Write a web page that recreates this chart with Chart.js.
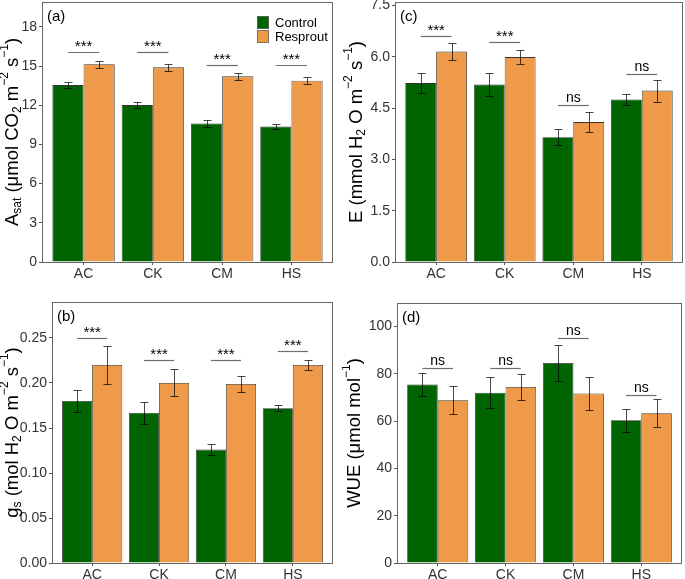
<!DOCTYPE html>
<html>
<head>
<meta charset="utf-8">
<script src="https://cdn.jsdelivr.net/npm/chart.js@4.4.1/dist/chart.umd.min.js"></script>
<style>
  body { margin: 0; background: #fff; }
  #wrap { position: relative; width: 685px; height: 579px; }
  canvas { position: absolute; }
</style>
</head>
<body>
<div id="wrap">
  <canvas id="pa" width="342" height="290" style="left:0;top:0"></canvas>
  <canvas id="pc" width="343" height="290" style="left:342px;top:0"></canvas>
  <canvas id="pb" width="342" height="289" style="left:0;top:290px"></canvas>
  <canvas id="pd" width="343" height="289" style="left:342px;top:290px"></canvas>
</div>
<script>
const categories = ['AC', 'CK', 'CM', 'HS']
const seriesNames = ['Control', 'Resprout']

// (a) A_sat
const asatControl = [13.54, 12.01, 10.60, 10.37]
const asatControlErr = [0.23, 0.25, 0.27, 0.22]
const asatResprout = [15.13, 14.90, 14.21, 13.88]
const asatResproutErr = [0.28, 0.27, 0.26, 0.27]
const asatSig = ['***', '***', '***', '***']
const asatSigY = [16.05, 16.05, 15.05, 15.05]
const asatTicks = [0, 3, 6, 9, 12, 15, 18]

// (c) E
const eControl = [5.23, 5.19, 3.65, 4.75]
const eControlErr = [0.28, 0.34, 0.23, 0.15]
const eResprout = [6.15, 5.99, 4.09, 5.01]
const eResproutErr = [0.245, 0.21, 0.30, 0.32]
const eSig = ['***', '***', 'ns', 'ns']
const eSigY = [6.62, 6.42, 4.60, 5.51]
const eTicks = [0, 1.5, 3, 4.5, 6, 7.5]

// (b) g_s
const gsControl = [0.180, 0.167, 0.126, 0.172]
const gsControlErr = [0.012, 0.012, 0.006, 0.0036]
const gsResprout = [0.220, 0.200, 0.199, 0.220]
const gsResproutErr = [0.021, 0.015, 0.009, 0.0052]
const gsSig = ['***', '***', '***', '***']
const gsSigY = [0.250, 0.225, 0.225, 0.235]
const gsTicks = [0, 0.05, 0.10, 0.15, 0.20, 0.25]

// (d) WUE
const wueControl = [75.5, 72.0, 84.6, 60.4]
const wueControlErr = [5.0, 6.5, 7.8, 4.8]
const wueResprout = [68.9, 74.5, 71.7, 63.4]
const wueResproutErr = [5.8, 5.6, 7.0, 5.8]
const wueSig = ['ns', 'ns', 'ns', 'ns']
const wueSigY = [82.3, 82.3, 95.4, 71.1]
const wueTicks = [0, 20, 40, 60, 80, 100]

const GREEN = '#006400'
const ORANGE = '#EE9A49'
const FONT = "'Liberation Sans', Arial, sans-serif"

// draws border, error bars, significance brackets, panel tag, legend, y title
const panelPlugin = {
  id: 'panel',
  afterDatasetsDraw(chart, args, opts) {
    const ctx = chart.ctx
    const a = chart.chartArea
    const y = chart.scales.y
    ctx.save()

    // error bars
    chart.data.datasets.forEach((ds, di) => {
      chart.getDatasetMeta(di).data.forEach((bar, i) => {
        const v = ds.data[i].y, e = ds.err[i]
        const t = Math.round(y.getPixelForValue(v + e)) + 0.5
        const b = Math.round(y.getPixelForValue(v - e)) + 0.5
        const x = Math.round(bar.x) + 0.5
        ctx.strokeStyle = 'rgba(0,0,0,0.72)'
        ctx.lineWidth = 1
        ctx.beginPath()
        ctx.moveTo(x, t); ctx.lineTo(x, b)
        ctx.moveTo(x - 4, t); ctx.lineTo(x + 4, t)
        ctx.moveTo(x - 4, b); ctx.lineTo(x + 4, b)
        ctx.stroke()
      })
    })

    // significance
    const m0 = chart.getDatasetMeta(0).data, m1 = chart.getDatasetMeta(1).data
    opts.sig.forEach((s, i) => {
      const ly = Math.round(y.getPixelForValue(opts.sigY[i])) + 0.5
      ctx.strokeStyle = '#6e6e6e'
      ctx.lineWidth = 1.2
      ctx.beginPath()
      ctx.moveTo(m0[i].x, ly); ctx.lineTo(m1[i].x, ly)
      ctx.stroke()
      ctx.fillStyle = '#000'
      ctx.font = (s === 'ns' ? '14px ' : '15px ') + FONT
      ctx.textAlign = 'center'
      ctx.textBaseline = 'alphabetic'
      ctx.fillText(s, (m0[i].x + m1[i].x) / 2, ly - (s === 'ns' ? 4 : 2))
    })

    // panel border
    ctx.strokeStyle = '#666'
    ctx.lineWidth = 1
    ctx.strokeRect(Math.round(a.left) + 0.5, Math.round(a.top) + 0.5,
      Math.round(a.width) - 1, Math.round(a.height))

    // tag
    ctx.fillStyle = '#000'
    ctx.font = '15px ' + FONT
    ctx.textAlign = 'left'
    ctx.textBaseline = 'middle'
    ctx.fillText(opts.tag, a.left + 5, a.top + opts.tagDy)

    // legend
    if (opts.legend) {
      const colors = [GREEN, ORANGE]
      seriesNames.forEach((n, k) => {
        const ly = 16 + k * 14
        ctx.fillStyle = colors[k]
        ctx.fillRect(257, ly, 12, 13)
        ctx.strokeStyle = '#666'
        ctx.lineWidth = 0.8
        ctx.strokeRect(257.5, ly + 0.5, 11, 12)
        ctx.fillStyle = '#000'
        ctx.font = '13px ' + FONT
        ctx.textBaseline = 'middle'
        ctx.fillText(n, 275, ly + 7)
      })
    }

    // y title with sub/superscripts
    const big = '18.5px ' + FONT, small = '12px ' + FONT
    let total = 0
    opts.title.forEach(p => {
      ctx.font = p[1] === 'n' ? big : small
      total += ctx.measureText(p[0]).width
    })
    ctx.translate(opts.titleX, (a.top + a.bottom) / 2)
    ctx.rotate(-Math.PI / 2)
    ctx.textAlign = 'left'
    ctx.textBaseline = 'middle'
    ctx.fillStyle = '#000'
    let cx = -total / 2
    opts.title.forEach(p => {
      ctx.font = p[1] === 'n' ? big : small
      const dy = p[1] === 'sub' ? 5 : p[1] === 'sup' ? -8 : 0
      ctx.fillText(p[0], cx, dy)
      cx += ctx.measureText(p[0]).width
    })
    ctx.restore()
  }
}

function makePanel(id, p) {
  const toPts = arr => arr.map((v, i) => ({ x: i, y: v }))
  return new Chart(document.getElementById(id), {
    type: 'bar',
    data: {
      datasets: [
        { label: seriesNames[0], data: toPts(p.control), err: p.controlErr, backgroundColor: GREEN },
        { label: seriesNames[1], data: toPts(p.resprout), err: p.resproutErr, backgroundColor: ORANGE }
      ]
    },
    plugins: [panelPlugin],
    options: {
      responsive: false,
      animation: false,
      devicePixelRatio: 1,
      layout: { padding: { top: p.top, right: p.right, left: 0, bottom: 0 } },
      datasets: {
        bar: { categoryPercentage: 0.9, barPercentage: 1, borderWidth: 0.8, borderColor: '#333' }
      },
      scales: {
        x: {
          type: 'linear', min: -0.6, max: 3.6, offset: false,
          afterBuildTicks: s => { s.ticks = categories.map((c, i) => ({ value: i })) },
          afterFit: s => { s.height = p.xh; s.paddingLeft = 0; s.paddingRight = 0 },
          ticks: { callback: v => categories[v], color: '#333', font: { family: FONT, size: 14 }, padding: 1, maxRotation: 0, autoSkip: false },
          grid: { drawOnChartArea: false, offset: false, tickLength: 3, color: '#555' },
          border: { display: false }
        },
        y: {
          min: 0, max: p.max,
          afterBuildTicks: s => { s.ticks = p.ticks.map(v => ({ value: v })) },
          afterFit: s => { s.width = p.yw; s.paddingTop = 0; s.paddingBottom = 0 },
          ticks: { callback: v => v.toFixed(p.dec), color: '#333', font: { family: FONT, size: 14 }, padding: 2 },
          grid: { drawOnChartArea: false, tickLength: 3, color: '#555' },
          border: { display: false }
        }
      },
      plugins: {
        legend: { display: false },
        tooltip: { enabled: false },
        panel: { sig: p.sig, sigY: p.sigY, tag: p.tag, tagDy: p.tagDy, legend: p.legend, title: p.title, titleX: p.titleX }
      }
    }
  })
}

makePanel('pa', {
  control: asatControl, controlErr: asatControlErr, resprout: asatResprout, resproutErr: asatResproutErr,
  sig: asatSig, sigY: asatSigY, ticks: asatTicks, max: 19.9, dec: 0,
  top: 2, right: 9, yw: 42, xh: 28, tag: '(a)', tagDy: 15, legend: true, titleX: 13,
  title: [['A', 'n'], ['sat', 'sub'], [' (μmol CO', 'n'], ['2', 'sub'], [' m', 'n'], ['−2', 'sup'], [' s', 'n'], ['−1', 'sup'], [')', 'n']]
})
makePanel('pc', {
  control: eControl, controlErr: eControlErr, resprout: eResprout, resproutErr: eResproutErr,
  sig: eSig, sigY: eSigY, ticks: eTicks, max: 7.6, dec: 1,
  top: 2, right: 2, yw: 53, xh: 28, tag: '(c)', tagDy: 15, legend: false, titleX: 15,
  title: [['E (mmol H', 'n'], ['2', 'sub'], [' O m', 'n'], ['−2', 'sup'], [' s', 'n'], ['−1', 'sup'], [')', 'n']]
})
makePanel('pb', {
  control: gsControl, controlErr: gsControlErr, resprout: gsResprout, resproutErr: gsResproutErr,
  sig: gsSig, sigY: gsSigY, ticks: gsTicks, max: 0.29, dec: 2,
  top: 12, right: 9, yw: 52, xh: 16, tag: '(b)', tagDy: 15, legend: false, titleX: 13,
  title: [['g', 'n'], ['s', 'sub'], [' (mol H', 'n'], ['2', 'sub'], [' O m', 'n'], ['−2', 'sup'], [' s', 'n'], ['−1', 'sup'], [')', 'n']]
})
makePanel('pd', {
  control: wueControl, controlErr: wueControlErr, resprout: wueResprout, resproutErr: wueResproutErr,
  sig: wueSig, sigY: wueSigY, ticks: wueTicks, max: 110, dec: 0,
  top: 13, right: 3, yw: 55, xh: 16, tag: '(d)', tagDy: 15, legend: false, titleX: 13,
  title: [['WUE (μmol mol', 'n'], ['−1', 'sup'], [')', 'n']]
})
</script>
</body>
</html>
